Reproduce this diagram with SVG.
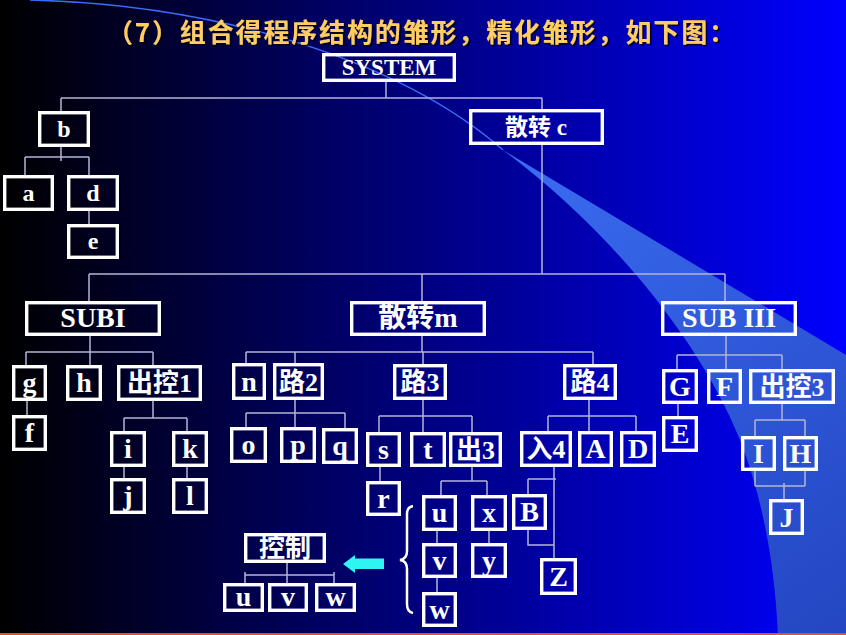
<svg xmlns="http://www.w3.org/2000/svg" width="846" height="635" viewBox="0 0 846 635">
<defs>
<linearGradient id="bg" x1="0" y1="0" x2="1" y2="0">
<stop offset="0" stop-color="#000000"/>
<stop offset="1" stop-color="#0000ff"/>
</linearGradient>
<linearGradient id="wedge" x1="503" y1="150" x2="846" y2="635" gradientUnits="userSpaceOnUse">
<stop offset="0" stop-color="#3a6cf2"/>
<stop offset="1" stop-color="#2446c2"/>
</linearGradient>
<filter id="sh" x="-5%" y="-30%" width="110%" height="160%">
<feDropShadow dx="1.5" dy="1.5" stdDeviation="0.6" flood-color="#000000" flood-opacity="0.9"/>
</filter>
<style>
.box{fill:none;stroke:#ffffff;stroke-width:3.4}
.t{font-family:"Liberation Serif","Noto Sans CJK SC",serif;font-weight:bold;fill:#ffffff;text-anchor:middle;font-size:28px}
.s24{font-size:24px}
.s23{font-size:23px}
.cn{font-family:"Liberation Serif","Noto Sans CJK SC",serif}
.conn path{fill:none;stroke:#b4b4d8;stroke-width:1.5}
.title{font-family:"Noto Sans CJK SC","Liberation Sans",sans-serif;font-weight:bold;font-size:26px;fill:#ffcc66}
</style>
</defs>
<rect x="0" y="0" width="846" height="635" fill="url(#bg)"/>
<path d="M30 0 C220 5 400 60 503 150" fill="none" stroke="#3c6cff" stroke-width="1.5"/>
<path d="M503 150 L846 355 L846 635 L778 635 C775 570 765 505 740 440 C700 340 610 230 503 150 Z" fill="url(#wedge)"/>
<rect x="0" y="633" width="846" height="2" fill="#e0522e"/>

<text class="title" x="107" y="42" textLength="628" lengthAdjust="spacing" filter="url(#sh)">（7）组合得程序结构的雏形，精化雏形，如下图：</text>

<g id="connectors" class="conn">
<path d="M386 82 V98 M61 98 H542 M61 98 V111 M542 98 V109"/>
<path d="M61 147 V161 M25 157 H89 M25 157 V175 M89 157 V175"/>
<path d="M89 211 V224"/>
<path d="M542 145 V274 M89 274 H725 M89 274 V301 M422 274 V301 M725 274 V301"/>
<path d="M90 336 V365 M26 352 H153 M26 352 V365 M153 352 V365"/>
<path d="M27 401 V415"/>
<path d="M153 401 V418 M124 418 H187 M124 418 V431 M187 418 V431"/>
<path d="M124 467 V478 M187 467 V478"/>
<path d="M422 336 V352 M246 352 H593 M246 352 V363 M295 352 V363 M423 352 V364 M593 352 V364"/>
<path d="M295 400 V427 M246 413 H345 M246 413 V427 M345 413 V428"/>
<path d="M423 400 V432 M379 416 H472 M379 416 V432 M472 416 V432"/>
<path d="M380 467 V481"/>
<path d="M472 467 V481 M441 481 H487 M441 481 V495 M487 481 V495"/>
<path d="M437 531 V543 M437 578 V592 M489 531 V543"/>
<path d="M589 400 V431 M548 416 H636 M548 416 V431 M636 416 V431"/>
<path d="M554 467 V558 M528 479 H556 M528 479 V494 M528 530 V545 H554"/>
<path d="M726 336 V369 M677 355 H782 M677 355 V369 M782 355 V369"/>
<path d="M678 404 V416"/>
<path d="M782 404 V420 M755 420 H805 M755 420 V436 M805 420 V436"/>
<path d="M755 471 V486 M805 471 V486 M755 486 H805 M784 483 V499"/>
<path d="M287 563 V583 M245 575 H334 M245 572 V583 M334 572 V583"/>
</g>

<g id="n-system"><rect class="box" x="323.7" y="54.7" width="130.6" height="25.6"/><text class="t s23" x="389" y="75">SYSTEM</text></g>
<g id="n-b"><rect class="box" x="39.7" y="112.7" width="48.6" height="32.6"/><text class="t s24" x="64" y="137">b</text></g>
<g id="n-c"><rect class="box" x="470.7" y="110.7" width="131.6" height="32.6"/><text class="t" style="font-size:23px" x="536" y="135">散转 c</text></g>
<g id="n-a"><rect class="box" x="4.7" y="176.7" width="47.6" height="32.6"/><text class="t s24" x="28.5" y="201">a</text></g>
<g id="n-d"><rect class="box" x="68.7" y="176.7" width="48.6" height="32.6"/><text class="t s24" x="93" y="201">d</text></g>
<g id="n-e"><rect class="box" x="68.7" y="225.7" width="48.6" height="31.6"/><text class="t s24" x="93" y="249">e</text></g>

<g id="n-subi"><rect class="box" x="26.7" y="302.7" width="132.6" height="31.6"/><text class="t" x="93" y="327">SUBI</text></g>
<g id="n-m"><rect class="box" x="351.7" y="302.7" width="132.6" height="31.6"/><text class="t" x="418" y="327">散转m</text></g>
<g id="n-subiii"><rect class="box" x="662.7" y="302.7" width="132.6" height="31.6"/><text class="t" x="729" y="327">SUB III</text></g>

<g id="n-g"><rect class="box" x="13.7" y="366.7" width="31.6" height="32.6"/><text class="t" x="29.5" y="392">g</text></g>
<g id="n-h"><rect class="box" x="67.7" y="366.7" width="32.6" height="32.6"/><text class="t" x="84" y="392">h</text></g>
<g id="n-ck1"><rect class="box" x="118.7" y="366.7" width="81.6" height="32.6"/><text class="t" style="font-size:26px" x="159.5" y="392">出控1</text></g>
<g id="n-f"><rect class="box" x="13.7" y="416.7" width="31.6" height="32.6"/><text class="t" x="29.5" y="442">f</text></g>
<g id="n-i"><rect class="box" x="111.7" y="432.7" width="32.6" height="32.6"/><text class="t" x="128" y="458">i</text></g>
<g id="n-k"><rect class="box" x="173.7" y="432.7" width="32.6" height="32.6"/><text class="t" x="190" y="458">k</text></g>
<g id="n-j"><rect class="box" x="111.7" y="479.7" width="32.6" height="32.6"/><text class="t" x="128" y="505">j</text></g>
<g id="n-l"><rect class="box" x="173.7" y="479.7" width="32.6" height="32.6"/><text class="t" x="190" y="505">l</text></g>

<g id="n-n"><rect class="box" x="233.7" y="364.7" width="30.6" height="33.6"/><text class="t" x="249" y="391">n</text></g>
<g id="n-l2"><rect class="box" x="274.7" y="364.7" width="47.6" height="33.6"/><text class="t" style="font-size:26px" x="298.5" y="391">路2</text></g>
<g id="n-l3"><rect class="box" x="394.7" y="365.7" width="50.6" height="32.6"/><text class="t" style="font-size:26px" x="420" y="391">路3</text></g>
<g id="n-l4"><rect class="box" x="564.7" y="365.7" width="50.6" height="32.6"/><text class="t" style="font-size:26px" x="590" y="391">路4</text></g>
<g id="n-o"><rect class="box" x="231.7" y="428.7" width="33.6" height="32.6"/><text class="t" x="248.5" y="454">o</text></g>
<g id="n-p"><rect class="box" x="281.7" y="428.7" width="32.6" height="32.6"/><text class="t" x="298" y="454">p</text></g>
<g id="n-q"><rect class="box" x="323.7" y="429.7" width="32.6" height="32.6"/><text class="t" x="340" y="455">q</text></g>
<g id="n-s"><rect class="box" x="367.7" y="433.7" width="31.6" height="31.6"/><text class="t" x="383.5" y="459">s</text></g>
<g id="n-t"><rect class="box" x="411.7" y="433.7" width="32.6" height="31.6"/><text class="t" x="428" y="459">t</text></g>
<g id="n-c3"><rect class="box" x="450.7" y="433.7" width="49.6" height="31.6"/><text class="t" style="font-size:26px" x="475.5" y="459">出3</text></g>
<g id="n-r"><rect class="box" x="367.7" y="482.7" width="31.6" height="31.6"/><text class="t" x="383.5" y="508">r</text></g>
<g id="n-u"><rect class="box" x="423.7" y="496.7" width="31.6" height="32.6"/><text class="t" x="439.5" y="522">u</text></g>
<g id="n-x"><rect class="box" x="472.7" y="496.7" width="32.6" height="32.6"/><text class="t" x="489" y="522">x</text></g>
<g id="n-v"><rect class="box" x="423.7" y="544.7" width="31.6" height="31.6"/><text class="t" x="439.5" y="570">v</text></g>
<g id="n-y"><rect class="box" x="472.7" y="544.7" width="32.6" height="31.6"/><text class="t" x="489" y="570">y</text></g>
<g id="n-w"><rect class="box" x="423.7" y="593.7" width="31.6" height="31.6"/><text class="t" x="439.5" y="619">w</text></g>
<g id="n-r4"><rect class="box" x="521.7" y="432.7" width="48.6" height="32.6"/><text class="t" style="font-size:26px" x="546" y="458">入4</text></g>
<g id="n-A"><rect class="box" x="579.7" y="432.7" width="31.6" height="32.6"/><text class="t" x="595.5" y="458">A</text></g>
<g id="n-D"><rect class="box" x="621.7" y="432.7" width="32.6" height="32.6"/><text class="t" x="638" y="458">D</text></g>
<g id="n-B"><rect class="box" x="513.7" y="495.7" width="31.6" height="32.6"/><text class="t" x="529.5" y="521">B</text></g>
<g id="n-Z"><rect class="box" x="541.7" y="559.7" width="33.6" height="33.6"/><text class="t" x="558.5" y="586">Z</text></g>

<g id="n-G"><rect class="box" x="663.7" y="370.7" width="32.6" height="31.6"/><text class="t" x="680" y="396">G</text></g>
<g id="n-F"><rect class="box" x="708.7" y="370.7" width="31.6" height="31.6"/><text class="t" x="724.5" y="396">F</text></g>
<g id="n-ck3"><rect class="box" x="750.7" y="370.7" width="82.6" height="31.6"/><text class="t" style="font-size:26px" x="792" y="396">出控3</text></g>
<g id="n-E"><rect class="box" x="663.7" y="417.7" width="32.6" height="32.6"/><text class="t" x="680" y="443">E</text></g>
<g id="n-I"><rect class="box" x="742.7" y="437.7" width="31.6" height="31.6"/><text class="t" x="758.5" y="463">I</text></g>
<g id="n-H"><rect class="box" x="784.7" y="437.7" width="31.6" height="31.6"/><text class="t" x="800.5" y="463">H</text></g>
<g id="n-J"><rect class="box" x="770.7" y="500.7" width="31.6" height="32.6"/><text class="t" x="786.5" y="527">J</text></g>

<g id="n-kz"><rect class="box" x="245.7" y="534.7" width="78.6" height="26.6"/><text class="t" style="font-size:26px" x="285" y="557">控制</text></g>
<g id="n-cu"><rect class="box" x="224.7" y="584.7" width="37.6" height="25.6"/><text class="t" x="243.5" y="606">u</text></g>
<g id="n-cv"><rect class="box" x="269.7" y="584.7" width="36.6" height="25.6"/><text class="t" x="288" y="606">v</text></g>
<g id="n-cw"><rect class="box" x="316.7" y="584.7" width="37.6" height="25.6"/><text class="t" x="335.5" y="606">w</text></g>

<path id="brace" d="M413 506 Q407 507 407 514 V551 Q407 559 400 560 Q407 561 407 569 V604 Q407 612 413 613" fill="none" stroke="#ffffff" stroke-width="2.5"/>
<polygon id="arrow" points="343,564 355,555 355,558.5 384,558.5 384,569 355,569 355,573" fill="#2ff5f0"/>
</svg>
